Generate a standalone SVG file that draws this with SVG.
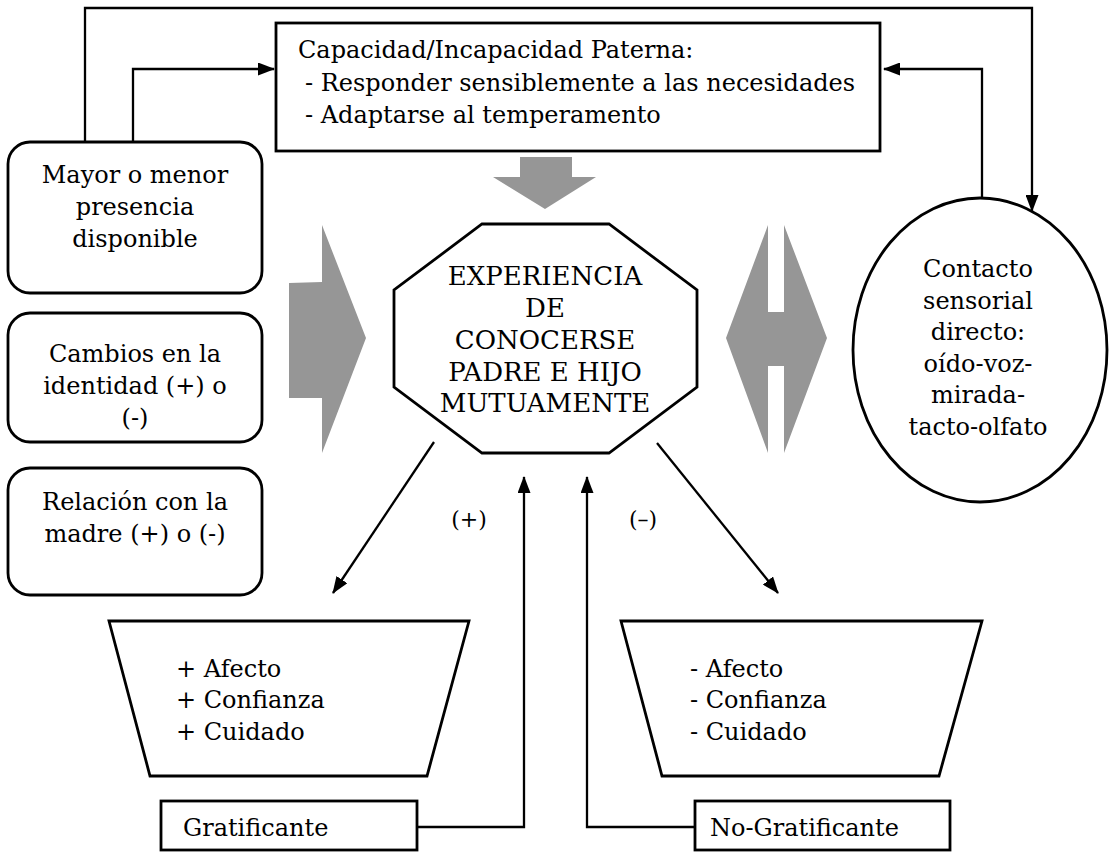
<svg xmlns="http://www.w3.org/2000/svg" width="1111" height="852" viewBox="0 0 1111 852">
<defs>
<marker id="ah" markerUnits="userSpaceOnUse" markerWidth="17" markerHeight="13" refX="16" refY="6.5" orient="auto">
<path d="M0,0 L17,6.5 L0,13 Z" fill="#000"/>
</marker>
<style>
.t{font-family:"DejaVu Serif","Liberation Serif",serif;font-size:24px;fill:#000}
.c{text-anchor:middle}
.big{font-size:26px}
.lab{font-size:22px}
.s{fill:#fff;stroke:#000;stroke-width:2.8}
.g{fill:#969696;stroke:none}
.ln{fill:none;stroke:#000;stroke-width:2.3}
</style>
</defs>
<rect width="1111" height="852" fill="#fff"/>

<g id="capacidad">
<rect class="s" x="276" y="23" width="604" height="128"/>
<text class="t" x="298" y="58">Capacidad/Incapacidad Paterna:</text>
<text class="t" x="305" y="91">- Responder sensiblemente a las necesidades</text>
<text class="t" x="305" y="123">- Adaptarse al temperamento</text>
</g>

<g id="mayor">
<rect class="s" x="8" y="142" width="254" height="151" rx="22"/>
<text class="t c" x="135" y="183">Mayor o menor</text>
<text class="t c" x="135" y="215">presencia</text>
<text class="t c" x="135" y="247">disponible</text>
</g>

<g id="cambios">
<rect class="s" x="8" y="313" width="254" height="129" rx="22"/>
<text class="t c" x="135" y="362">Cambios en la</text>
<text class="t c" x="135" y="394">identidad (+) o</text>
<text class="t c" x="135" y="426">(-)</text>
</g>

<g id="relacion">
<rect class="s" x="8" y="468" width="254" height="127" rx="22"/>
<text class="t c" x="135" y="510">Relación con la</text>
<text class="t c" x="135" y="542">madre (+) o (-)</text>
</g>

<g id="flecha-arriba">
<polygon class="g" points="520,157 572,157 572,177 596,177 545,209 493,177 520,177"/>
</g>

<g id="flecha-izquierda">
<polygon class="g" points="289,283 322,282 322,225 366,338 322,453 322,398 289,398"/>
</g>

<g id="flecha-doble">
<polygon class="g" points="768,225 768,312 784,312 784,225 827,338 784,453 784,366 768,366 768,453 726,338"/>
</g>

<g id="experiencia">
<polygon class="s" points="482,224 609,224 697,290 697,387 609,453 482,453 394,387 394,290"/>
<text class="t c big" x="545" y="285">EXPERIENCIA</text>
<text class="t c big" x="545" y="317">DE</text>
<text class="t c big" x="545" y="349">CONOCERSE</text>
<text class="t c big" x="545" y="381">PADRE E HIJO</text>
<text class="t c big" x="545" y="412">MUTUAMENTE</text>
</g>

<g id="contacto">
<ellipse class="s" cx="980" cy="350" rx="127" ry="152"/>
<text class="t c" x="978" y="277">Contacto</text>
<text class="t c" x="978" y="309">sensorial</text>
<text class="t c" x="978" y="340">directo:</text>
<text class="t c" x="978" y="372">oído-voz-</text>
<text class="t c" x="978" y="403">mirada-</text>
<text class="t c" x="978" y="435">tacto-olfato</text>
</g>

<g id="positivo">
<polygon class="s" points="109,621 469,621 427,776 150,776"/>
<text class="t" x="176" y="677">+ Afecto</text>
<text class="t" x="176" y="708">+ Confianza</text>
<text class="t" x="176" y="740">+ Cuidado</text>
</g>

<g id="negativo">
<polygon class="s" points="621,621 982,621 939,776 662,776"/>
<text class="t" x="690" y="677">- Afecto</text>
<text class="t" x="690" y="708">- Confianza</text>
<text class="t" x="690" y="740">- Cuidado</text>
</g>

<g id="gratificante">
<rect class="s" x="161" y="801" width="256" height="49"/>
<text class="t" x="183" y="836">Gratificante</text>
</g>

<g id="no-gratificante">
<rect class="s" x="695" y="801" width="255" height="49"/>
<text class="t" x="710" y="836">No-Gratificante</text>
</g>

<g id="conectores">
<path class="ln" d="M85,142 V8 H1032 V211" marker-end="url(#ah)"/>
<path class="ln" d="M133,142 V69 H274" marker-end="url(#ah)"/>
<path class="ln" d="M982,197 V69 H884" marker-end="url(#ah)"/>
<path class="ln" d="M434,442 L333,593" marker-end="url(#ah)"/>
<path class="ln" d="M657,443 L778,593" marker-end="url(#ah)"/>
<path class="ln" d="M417,827 H524 V477" marker-end="url(#ah)"/>
<path class="ln" d="M695,827 H587 V477" marker-end="url(#ah)"/>
<text class="t c lab" x="469" y="527">(+)</text>
<text class="t c lab" x="643" y="527">(–)</text>
</g>
</svg>
